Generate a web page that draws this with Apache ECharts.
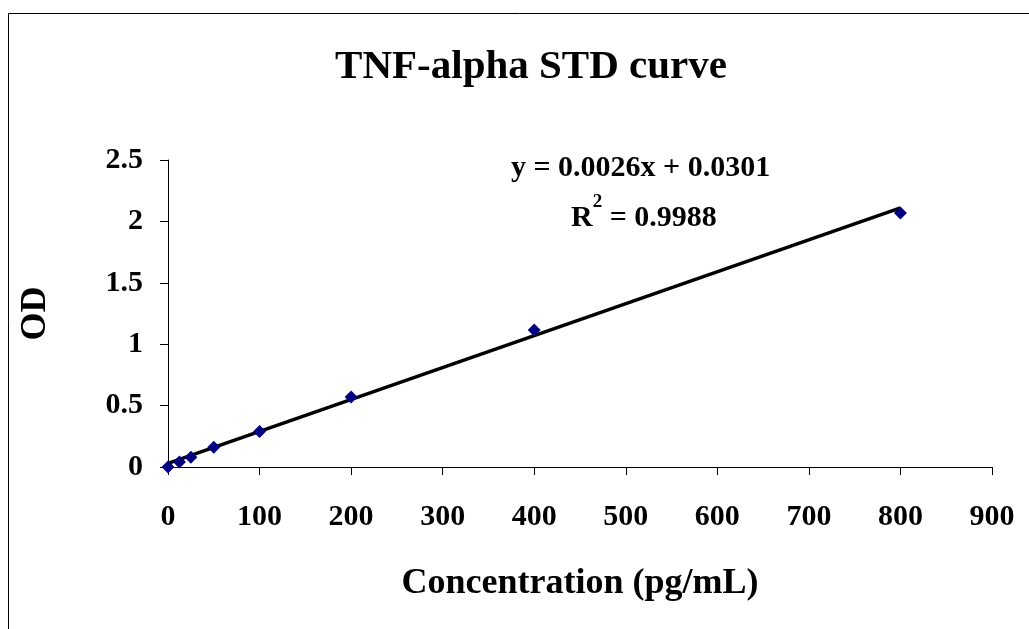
<!DOCTYPE html>
<html><head><meta charset="utf-8">
<script src="https://cdn.jsdelivr.net/npm/echarts@6/dist/echarts.min.js"></script>
<style>html,body{margin:0;padding:0;background:#fff}#c{width:1029px;height:629px}</style>
</head><body><div id="c"></div>
<script>
const concentrations = [0, 12.5, 25, 50, 100, 200, 400, 800];
const odValues = [0, 0.04, 0.08, 0.16, 0.29, 0.57, 1.115, 2.068];
const slope = 0.0026, intercept = 0.0301;
const trendX = [0, 800];
const xTicks = {min: 0, max: 900, interval: 100};
const yTicks = {min: 0, max: 2.5, interval: 0.5};
const titleText = 'TNF-alpha STD curve';
const xName = 'Concentration (pg/mL)';
const yName = 'OD';
const eqText = 'y = 0.0026x + 0.0301';
const r2Value = '0.9988';

const font = 'Liberation Serif, Times New Roman, serif';
const chart = echarts.init(document.getElementById('c'));
chart.setOption({
  animation: false,
  backgroundColor: '#fff',
  title: {text: titleText, left: 526, top: 42, textAlign: 'center',
    textStyle: {fontFamily: font, fontSize: 41, fontWeight: 'bold', color: '#000'}},
  grid: {left: 168, top: 160, right: 37, bottom: 162},
  xAxis: {type: 'value', min: xTicks.min, max: xTicks.max, interval: xTicks.interval,
    name: xName, nameLocation: 'middle', nameGap: 99,
    nameTextStyle: {fontFamily: font, fontSize: 36, fontWeight: 'bold', color: '#000'},
    axisLine: {lineStyle: {color: '#000', width: 1}},
    axisTick: {show: true, length: 8, lineStyle: {color: '#000'}},
    axisLabel: {fontFamily: font, fontSize: 30, fontWeight: 'bold', color: '#000', margin: 35},
    splitLine: {show: false}},
  yAxis: {type: 'value', min: yTicks.min, max: yTicks.max, interval: yTicks.interval,
    name: yName, nameLocation: 'middle', nameGap: 114, nameRotate: 90,
    nameTextStyle: {fontFamily: font, fontSize: 36, fontWeight: 'bold', color: '#000'},
    axisLine: {show: true, lineStyle: {color: '#000', width: 1}},
    axisTick: {show: true, length: 8, lineStyle: {color: '#000'}},
    axisLabel: {fontFamily: font, fontSize: 30, fontWeight: 'bold', color: '#000', margin: 25},
    splitLine: {show: false}},
  series: [
    {type: 'line', data: trendX.map(x => [x, slope * x + intercept]), showSymbol: false,
      lineStyle: {color: '#000', width: 3.5}, z: 2},
    {type: 'scatter', data: concentrations.map((c, i) => [c, odValues[i]]),
      symbol: 'diamond', symbolSize: 13, itemStyle: {color: '#000080', opacity: 1}, z: 3}
  ],
  graphic: [
    {type: 'rect', shape: {x: 8.5, y: 13.5, width: 1100, height: 700},
      style: {fill: 'none', stroke: '#000', lineWidth: 1}, z: -1},
    {type: 'text', left: 511, top: 153,
      style: {text: eqText, fontFamily: font, fontSize: 30, fontWeight: 'bold', fill: '#000'}},
    {type: 'text', left: 571, top: 193,
      style: {text: '{a|R}{s|2}{a| = ' + r2Value + '}', fill: '#000',
        rich: {a: {fontFamily: font, fontSize: 30, fontWeight: 'bold', verticalAlign: 'bottom', height: 40},
               s: {fontFamily: font, fontSize: 19, fontWeight: 'bold', verticalAlign: 'top', height: 40, padding: [0,0,16,0]}}}}
  ]
});
</script></body></html>
